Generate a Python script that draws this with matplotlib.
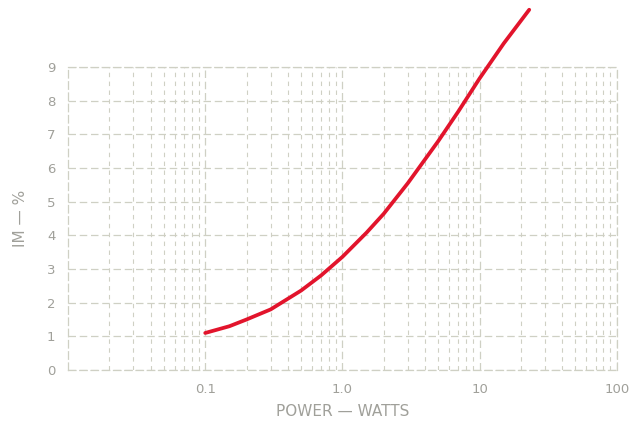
import numpy as np
import matplotlib.pyplot as plt
from matplotlib.ticker import LogLocator, FixedLocator, NullFormatter

# values
power_w = [0.1, 0.15, 0.2, 0.3, 0.5, 0.7, 1.0, 1.5, 2.0, 3.0, 5.0, 7.0, 10, 15, 23]
im_pct = [1.1, 1.3, 1.5, 1.8, 2.36, 2.81, 3.36, 4.08, 4.64, 5.55, 6.8, 7.68, 8.66, 9.7, 10.7]

x_ticks = [0.1, 1.0, 10, 100]
x_labels = ["0.1", "1.0", "10", "100"]
y_ticks = list(range(10))

grid_col = "#cfd0c4"
text_col = "#a0a09a"

fig = plt.figure(figsize=(6.3, 4.28), dpi=100)
ax = fig.add_axes([0.108, 0.1355, 0.871, 0.708])

ax.set_xscale("log")
ax.set_xlim(0.01, 100)
ax.set_ylim(0, 9)

ax.xaxis.set_major_locator(FixedLocator(x_ticks))
ax.set_xticklabels(x_labels)
ax.xaxis.set_minor_locator(LogLocator(base=10, subs=np.arange(2, 10)))
ax.xaxis.set_minor_formatter(NullFormatter())
ax.set_yticks(y_ticks)

ax.grid(True, which="major", color=grid_col, lw=0.9, ls=(0, (6, 3)))
ax.grid(True, which="minor", axis="x", color=grid_col, lw=0.8, ls=(0, (4, 4)))
for s in ax.spines.values():
    s.set_color(grid_col)
    s.set_linewidth(0.9)
    s.set_linestyle((0, (6, 3)))

ax.tick_params(which="both", length=0, colors=text_col, labelsize=9.5, pad=9)

ax.plot(power_w, im_pct, color="#e2142c", lw=2.7, solid_capstyle="round",
        solid_joinstyle="round", clip_on=False, zorder=5)

ax.set_xlabel("POWER — WATTS", color=text_col, fontsize=11, labelpad=6)
ax.set_ylabel("IM — %", color=text_col, fontsize=11, labelpad=14)

fig.savefig("out.png", dpi=100)
